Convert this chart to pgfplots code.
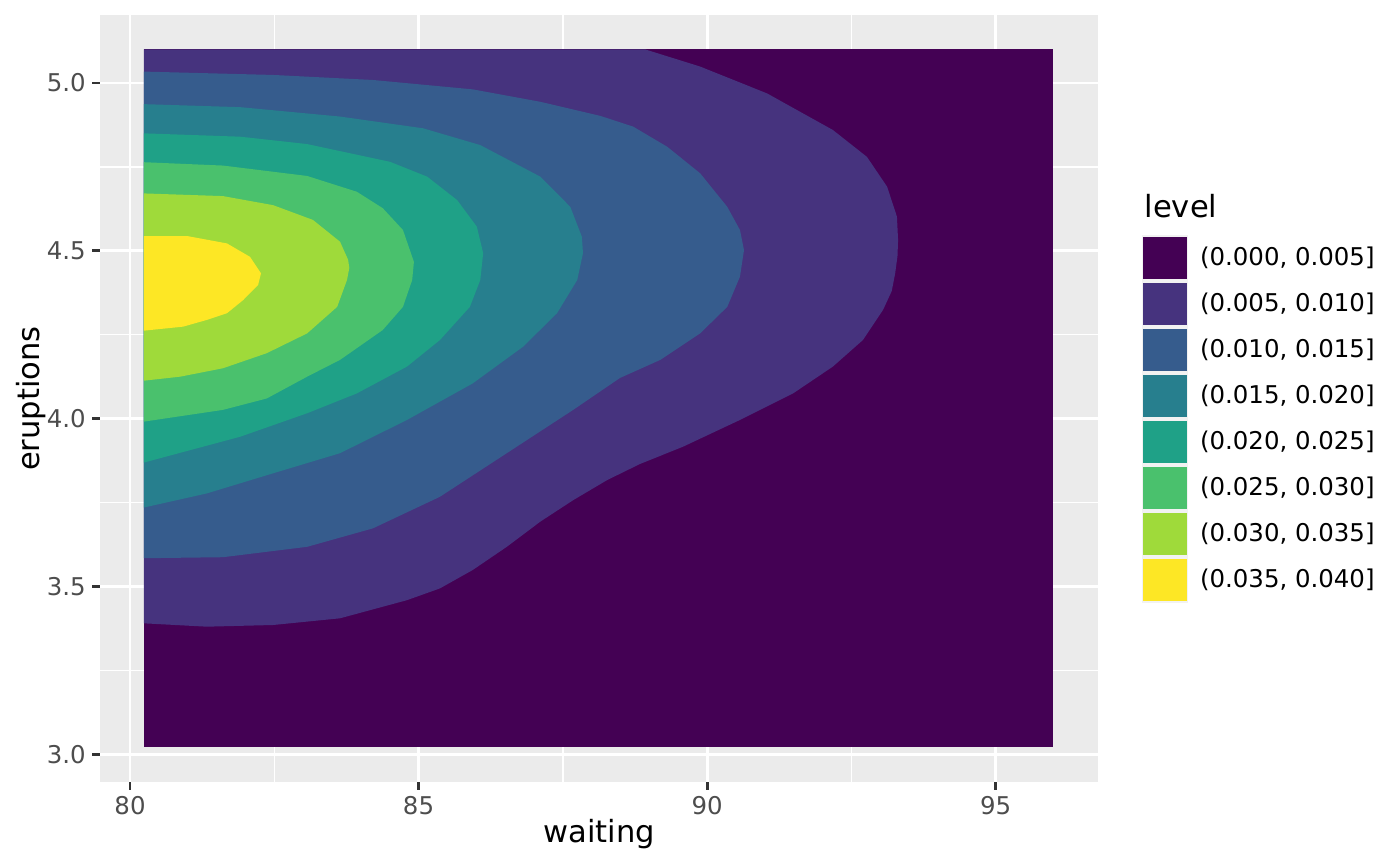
\documentclass[border=0pt]{standalone}
\usepackage{pgfplots}
\pgfplotsset{compat=1.18}
\usepackage{fontspec}
\setmainfont{DejaVu Sans}
\definecolor{c0}{HTML}{440154}
\definecolor{c1}{HTML}{46337E}
\definecolor{c2}{HTML}{365C8D}
\definecolor{c3}{HTML}{277F8E}
\definecolor{c4}{HTML}{1FA187}
\definecolor{c5}{HTML}{4AC16D}
\definecolor{c6}{HTML}{9FDA3A}
\definecolor{c7}{HTML}{FDE725}
\definecolor{ggbg}{HTML}{EBEBEB}
\definecolor{ggkeybg}{HTML}{F2F2F2}
\definecolor{tickc}{HTML}{333333}
\definecolor{labc}{HTML}{4D4D4D}
\pgfplotsset{
  ggkey/.style={legend image code/.code={
    \path[fill=ggkeybg, draw=none] (0pt,-8.28pt) rectangle (16.56pt,8.28pt);
    \fill[##1, draw=none] (0.36pt,-7.56pt) rectangle (16.2pt,7.56pt);}},
}
\begin{document}
\begin{tikzpicture}
\path[use as bounding box] (-36pt,-30.24pt) rectangle (467.96pt,281.52pt);
\begin{axis}[
  name=ax,
  scale only axis, width=359.28pt, height=276.12pt,
  xmin=79.48, xmax=96.776, ymin=2.917, ymax=5.2026,
  axis background/.style={fill=ggbg},
  axis line style={draw=none},
  xtick={80,85,90,95}, ytick={3,3.5,4,4.5,5},
  minor xtick={82.5,87.5,92.5}, minor ytick={3.25,3.75,4.25,4.75},
  grid=both,
  major grid style={white, line width=1.07pt},
  minor grid style={white, line width=0.53pt},
  tick align=outside, major tick length=2.75pt, minor tick length=0pt,
  major tick style={tickc, line width=1.07pt},
  minor tick style={draw=none},
  xtick pos=bottom, ytick pos=left,
  /pgf/number format/assume math mode=true,
  yticklabel style={/pgf/number format/fixed, /pgf/number format/fixed zerofill, /pgf/number format/precision=1},
  ticklabel style={font=\fontsize{8.8}{10}\selectfont, color=labc, inner sep=0pt},
  xticklabel style={anchor=north, yshift=-2.2pt},
  yticklabel style={anchor=east, xshift=-2.2pt},
  xlabel={waiting}, ylabel={eruptions},
  label style={font=\fontsize{11}{13}\selectfont, inner sep=0pt},
  xlabel style={at={(axis description cs:0.5,-0.0782)}, anchor=base},
  ylabel style={at={(axis description cs:-0.0611,0.5)}, anchor=base},
  legend style={at={(1.0441,0.7132)}, anchor=north west, draw=none, fill=none,
    inner sep=0pt, outer sep=0pt, row sep=0pt, column sep=4.3pt,
    font=\fontsize{8.8}{10}\selectfont,
    nodes={inner sep=0pt, outer sep=0pt, anchor=west}},
  legend cell align=left,
]
% background (0.000, 0.005]
\addplot[fill=c0, draw=none, forget plot] coordinates {(80.24,3.021) (96.0,3.021) (96.0,5.100) (80.24,5.100)} --cycle;
% > 0.005
\addplot[fill=c1, draw=none, forget plot] coordinates {
(80.24,3.390) (81.33,3.380) (82.48,3.385) (83.64,3.405) (84.80,3.459) (85.37,3.494)
(85.94,3.549) (86.53,3.618) (87.11,3.693) (87.68,3.757) (88.27,3.817) (88.84,3.865)
(89.58,3.916) (90.57,3.996) (91.49,4.075) (92.18,4.155) (92.70,4.234) (93.05,4.324)
(93.20,4.380) (93.26,4.433) (93.30,4.485) (93.31,4.532) (93.29,4.602) (93.12,4.691)
(92.77,4.780) (92.18,4.860) (91.04,4.969) (89.88,5.049) (88.93,5.100) (80.24,5.100)} --cycle;
% > 0.010
\addplot[fill=c2, draw=none, forget plot] coordinates {
(80.24,3.584) (81.61,3.587) (83.07,3.618) (84.21,3.673) (85.37,3.767) (86.53,3.897)
(87.68,4.026) (88.49,4.121) (89.19,4.175) (89.88,4.254) (90.35,4.333) (90.57,4.423)
(90.64,4.502) (90.57,4.562) (90.35,4.631) (89.88,4.731) (89.31,4.810) (88.72,4.870)
(88.15,4.902) (87.11,4.944) (85.94,4.981) (84.21,5.009) (82.48,5.024) (80.24,5.034)} --cycle;
% > 0.015
\addplot[fill=c3, draw=none, forget plot] coordinates {
(80.24,3.735) (81.33,3.777) (82.48,3.837) (83.64,3.897) (84.80,3.996) (85.94,4.105)
(86.81,4.214) (87.40,4.314) (87.75,4.413) (87.85,4.493) (87.83,4.542) (87.63,4.631)
(87.11,4.721) (86.07,4.815) (85.08,4.865) (83.64,4.900) (81.91,4.928) (80.24,4.937)} --cycle;
% > 0.020
\addplot[fill=c4, draw=none, forget plot] coordinates {
(80.24,3.869) (81.91,3.946) (83.07,4.016) (83.93,4.075) (84.80,4.155) (85.37,4.234)
(85.89,4.333) (86.07,4.413) (86.12,4.493) (86.01,4.572) (85.67,4.651) (85.15,4.721)
(84.51,4.765) (83.07,4.818) (81.91,4.840) (80.24,4.850)} --cycle;
% > 0.025
\addplot[fill=c5, draw=none, forget plot] coordinates {
(80.24,3.991) (81.61,4.026) (82.37,4.060) (83.07,4.125) (83.64,4.175) (84.38,4.264)
(84.73,4.333) (84.89,4.413) (84.92,4.467) (84.73,4.562) (84.38,4.627) (83.93,4.676)
(83.07,4.723) (81.61,4.754) (80.24,4.764)} --cycle;
% > 0.030
\addplot[fill=c6, draw=none, forget plot] coordinates {
(80.24,4.113) (80.87,4.125) (81.61,4.150) (82.37,4.195) (83.07,4.254) (83.59,4.333)
(83.76,4.413) (83.80,4.449) (83.78,4.473) (83.64,4.527) (83.17,4.592) (82.48,4.636)
(81.61,4.663) (80.24,4.671)} --cycle;
% > 0.035
\addplot[fill=c7, draw=none, forget plot] coordinates {
(80.24,4.262) (80.92,4.274) (81.33,4.294) (81.68,4.314) (81.96,4.353) (82.22,4.398)
(82.27,4.433) (82.08,4.482) (81.68,4.522) (80.99,4.544) (80.24,4.544)} --cycle;
\addlegendimage{ggkey, fill=c0}\addlegendentry{(0.000, 0.005]}
\addlegendimage{ggkey, fill=c1}\addlegendentry{(0.005, 0.010]}
\addlegendimage{ggkey, fill=c2}\addlegendentry{(0.010, 0.015]}
\addlegendimage{ggkey, fill=c3}\addlegendentry{(0.015, 0.020]}
\addlegendimage{ggkey, fill=c4}\addlegendentry{(0.020, 0.025]}
\addlegendimage{ggkey, fill=c5}\addlegendentry{(0.025, 0.030]}
\addlegendimage{ggkey, fill=c6}\addlegendentry{(0.030, 0.035]}
\addlegendimage{ggkey, fill=c7}\addlegendentry{(0.035, 0.040]}
\end{axis}
\node[anchor=base west, inner sep=0pt, font=\fontsize{11}{13}\selectfont] at ([xshift=375.84pt, yshift=203.3pt]ax.south west) {level};
\end{tikzpicture}
\end{document}
